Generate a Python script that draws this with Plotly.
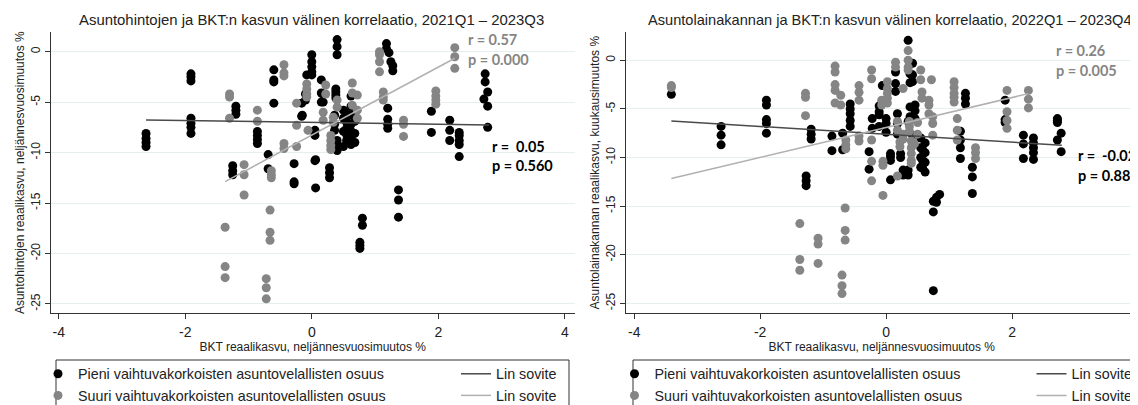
import plotly.graph_objects as go

# Browser window size and the default 8px page margin around the plot div
WIN_W, WIN_H = 1138, 405
OFF = 8
W, H = WIN_W - OFF, WIN_H - OFF

# ---------------- data ----------------
# Left panel: house prices vs GDP, 2021Q1-2023Q3
left_black_cols_x = [-2.62, -1.91, -1.20, -1.25, -0.86, -0.69, -0.60, -0.28, -0.16, -0.10,
                     -0.08, -0.15, 0.00, 0.05, 0.06, 0.15, 0.18, 0.28, 0.36, 0.38,
                     0.40, 0.50, 0.55, 0.62, 0.68, 0.76, 0.80, 1.18, 1.22, 1.25,
                     1.28, 1.20, 1.37, 1.89, 2.18, 2.33, 2.74, 2.78, 2.72]
left_black_cols_y = [[-8.1, -8.6, -9.0, -9.4], [-2.2, -2.5, -2.9, -6.6, -7.1, -7.5, -8.1],
                     [-5.4, -5.8, -6.2], [-11.3, -11.8, -12.2], [-7.9, -8.3, -8.7, -9.1],
                     [-10.2, -11.6], [-1.8, -2.8, -3.0, -5.1], [-11.1, -12.9, -13.1],
                     [-5.1, -6.4], [-4.2, -4.8], [-2.3], [-6.3],
                     [-0.3, -1.0, -1.5, -2.0, -2.3], [-7.8, -8.3, -10.8], [-10.7, -13.5],
                     [-2.8, -4.1, -5.0], [-4.2, -5.0], [-11.5, -12.0, -12.5],
                     [-6.3, -7.2, -7.8], [-3.7, -4.0, -4.3, -4.6],
                     [1.2, 0.5, -0.3, -8.8, -9.3, -9.8], [-5.8, -6.6, -7.9, -9.4],
                     [-6.1, -7.0, -7.6, -8.2, -8.8], [-4.4, -5.4, -6.3, -7.2, -7.9, -8.5, -9.2],
                     [-5.9, -6.9, -8.1, -9.0], [-18.9, -19.2, -19.5], [-16.5, -17.2],
                     [0.8, 0.3], [-0.1], [-1.0], [-1.4, -1.9], [-5.6, -6.7, -7.2, -7.6],
                     [-13.7, -14.7, -16.4], [-5.9, -8.0], [-6.8, -7.8, -8.8],
                     [-8.0, -8.3, -8.8, -9.2, -10.4], [-2.2, -3.0], [-4.0, -5.4, -7.5], [-4.7]]

left_gray_cols_x = [-1.30, -1.07, -0.86, -0.64, -0.44, -0.24, -0.06, -0.08, -1.37, -0.66,
                    -0.72, 0.18, 0.22, 0.34, 0.30, 0.40, 0.64, 0.72, 1.07, 1.13,
                    1.45, 1.96, 2.26]
left_gray_cols_y = [[-4.2, -4.5, -6.6], [-11.2, -12.2, -14.2], [-5.8, -6.9],
                    [-11.8, -12.2, -12.5], [-1.3, -2.1, -2.4, -9.1, -9.6],
                    [-5.1, -7.3, -9.4], [-7.8], [-3.2, -3.7, -4.2, -4.5],
                    [-17.4, -21.3, -22.4], [-15.7, -17.9, -18.7], [-22.5, -23.4, -24.5],
                    [-6.0, -6.8], [-3.3, -4.2], [-6.5, -7.0], [-8.3, -8.8, -9.3, -9.7],
                    [-4.8, -5.5], [-3.1, -4.1, -5.3], [-4.3, -5.8, -6.6],
                    [0.0, -0.3, -1.0, -2.0], [-4.0, -4.5, -4.8], [-6.8, -7.2, -8.4],
                    [-3.9, -4.4, -4.8, -5.2], [0.4, -0.5, -1.65]]

# Right panel: housing loan stock vs GDP, 2022Q1-2023Q4
right_black_cols_x = [-3.41, -2.62, -1.90, -1.19, -1.27, -0.86, -0.69, -0.57, -0.27, -0.22,
                      -0.11, -0.06, 0.00, 0.07, 0.15, 0.18, 0.23, 0.27, 0.35, 0.38,
                      0.42, 0.46, 0.55, 0.62, 0.58, 0.75, 0.80, 0.85, 1.18, 1.26,
                      1.37, 1.89, 2.18, 2.34, 2.72, 2.78]
right_black_cols_y = [[-3.5], [-6.8, -7.7, -8.7], [-4.1, -4.6, -6.1, -6.5, -7.5],
                      [-7.1, -7.6, -8.1], [-11.9, -12.4, -12.9], [-7.8, -9.3], [-7.5, -9.2],
                      [-4.5, -5.0, -5.5, -6.2, -6.8], [-9.4, -11.2], [-6.0, -7.0],
                      [-4.7, -5.3, -5.6, -6.8], [-2.6], [-6.0, -6.5, -7.4],
                      [-9.6, -9.9, -10.3, -12.3], [-1.2, -2.4, -3.2], [-5.5, -6.5, -7.6],
                      [-9.6, -10.0], [-11.3, -11.8], [2.05, -6.3, -11.3, -11.8],
                      [-1.4, -2.3, -4.8, -5.8], [-0.3, -1.5, -2.2, -7.7, -8.5],
                      [-4.6, -5.2, -6.0], [-8.0, -9.0, -10.0, -11.0], [-8.5, -9.5, -10.5, -11.5],
                      [-9.2, -10.3, -11.1], [-15.6, -23.7, -14.5], [-14.1, -14.6], [-13.8],
                      [-7.3, -8.2, -9.0, -10.1], [-3.4, -3.9, -4.5], [-11.0, -12.0, -13.7],
                      [-4.1, -6.1, -6.4], [-7.7, -8.6, -10.1], [-8.0, -8.5, -9.0, -9.5, -10.2],
                      [-6.0, -6.2, -6.4, -8.2], [-7.5, -9.4]]

right_gray_cols_x = [-3.41, -1.28, -0.81, -0.72, -0.64, -0.43, -0.23, -0.07, -0.05, 0.02,
                     0.15, 0.18, 0.22, 0.27, 0.35, 0.37, 0.40, 0.45, 0.50, 0.55,
                     0.57, 0.68, 0.72, 0.74, 1.08, 1.13, 1.42, 1.92, 2.26, -0.65,
                     -1.37, -1.08, -0.70]
right_gray_cols_y = [[-2.6, -2.8], [-3.4, -3.8, -5.7], [-0.6, -1.2, -2.5, -3.1, -4.4],
                     [-3.6, -4.6], [-8.2, -8.7, -9.1], [-2.6, -3.3, -4.1, -7.8, -8.3],
                     [-1.0, -1.9, -8.2, -10.4, -12.4], [-4.1, -4.6], [-10.4, -10.8, -13.9],
                     [-2.2, -2.9, -3.4, -3.9, -4.4], [-0.2, -0.7], [-6.3, -7.2, -11.9],
                     [-8.4, -8.9], [-2.9, -7.6, -8.1], [1.0, 0.0, -0.7, -1.0],
                     [-6.3, -6.8, -7.3], [-8.3, -9.0, -9.6, -10.3, -10.6], [-8.6],
                     [-6.4, -7.6], [-1.0, -2.0], [-3.25, -3.9], [-4.1, -4.6, -5.5], [-2.0],
                     [-5.8, -6.5, -7.7], [-2.2, -2.8, -3.4, -3.8, -4.3], [-6.0, -7.2, -8.2],
                     [-9.0, -9.5, -10.1], [-3.1, -5.3, -6.2, -7.0], [-3.1, -4.0, -4.9],
                     [-15.2, -17.5, -18.5], [-16.8, -20.5, -21.6], [-18.3, -18.9, -20.9],
                     [-22.1, -23.2, -24.0]]

# Linear fit lines (endpoints)
left_black_fit_x, left_black_fit_y = [-2.62, 2.80], [-6.77, -7.26]
left_gray_fit_x, left_gray_fit_y = [-1.37, 2.26], [-12.88, -0.65]
right_black_fit_x, right_black_fit_y = [-3.41, 2.79], [-6.24, -8.74]
right_gray_fit_x, right_gray_fit_y = [-3.41, 2.26], [-12.16, -3.43]

# Correlation labels
left_gray_stats = ["r = 0.57", "p = 0.000"]
left_black_stats = ["r =\u00a0 0.05", "p = 0.560"]
right_gray_stats = ["r = 0.26", "p = 0.005"]
right_black_stats = ["r =\u00a0 -0.02", "p = 0.883"]

x_ticks = [-4, -2, 0, 2, 4]
x_tick_text = ["-4", "-2", "0", "2", "4"]
y_ticks = [-25, -20, -15, -10, -5, 0]
y_tick_text = ["-25", "-20", "-15", "-10", "-5", "0"]

titles = ["Asuntohintojen ja BKT:n kasvun välinen korrelaatio, 2021Q1 \u2013 2023Q3",
          "Asuntolainakannan ja BKT:n kasvun välinen korrelaatio, 2022Q1 \u2013 2023Q4"]
x_title = "BKT reaalikasvu, neljännesvuosimuutos %"
y_titles = ["Asuntohintojen reaalikasvu, neljännesvuosimuutos %",
            "Asuntolainakannan reaalikasvu, kuukausimuutos %"]
series_names = ["Pieni vaihtuvakorkoisten asuntovelallisten osuus",
                "Suuri vaihtuvakorkoisten asuntovelallisten osuus"]
fit_name = "Lin sovite"


def expand(xs, yss):
    ox, oy = [], []
    for x, ys in zip(xs, yss):
        for y in ys:
            ox.append(x)
            oy.append(y)
    return ox, oy


BLACK = "#000000"
GRAY = "#858585"
FIT_DARK = "#4a4a4a"
FIT_LIGHT = "#b0b0b0"
FONT = "Liberation Sans, Arial, sans-serif"
TXT = "#222222"

fig = go.Figure()

panels = [
    dict(xa="x", ya="y", bx=left_black_cols_x, by=left_black_cols_y,
         gx=left_gray_cols_x, gy=left_gray_cols_y,
         bf=(left_black_fit_x, left_black_fit_y), gf=(left_gray_fit_x, left_gray_fit_y),
         lm="legend", ll="legend2"),
    dict(xa="x2", ya="y2", bx=right_black_cols_x, by=right_black_cols_y,
         gx=right_gray_cols_x, gy=right_gray_cols_y,
         bf=(right_black_fit_x, right_black_fit_y), gf=(right_gray_fit_x, right_gray_fit_y),
         lm="legend3", ll="legend4"),
]

for p in panels:
    bx, by = expand(p["bx"], p["by"])
    gx, gy = expand(p["gx"], p["gy"])
    fig.add_trace(go.Scatter(x=bx, y=by, mode="markers", xaxis=p["xa"], yaxis=p["ya"],
                             name=series_names[0], legend=p["lm"],
                             marker=dict(color=BLACK, size=9, opacity=1, line=dict(width=0))))
    fig.add_trace(go.Scatter(x=gx, y=gy, mode="markers", xaxis=p["xa"], yaxis=p["ya"],
                             name=series_names[1], legend=p["lm"],
                             marker=dict(color=GRAY, size=9, opacity=1, line=dict(width=0))))
    fig.add_trace(go.Scatter(x=p["bf"][0], y=p["bf"][1], mode="lines", xaxis=p["xa"], yaxis=p["ya"],
                             name=fit_name, legend=p["ll"], line=dict(color=FIT_DARK, width=1.5)))
    fig.add_trace(go.Scatter(x=p["gf"][0], y=p["gf"][1], mode="lines", xaxis=p["xa"], yaxis=p["ya"],
                             name=fit_name, legend=p["ll"], line=dict(color=FIT_LIGHT, width=1.5)))


# helpers: window pixel -> paper fraction (figure sits 8px in from the window corner)
def px_x(v):
    return (v - OFF) / W


def px_y(v):
    return 1 - (v - OFF) / H


y_dom = [px_y(313.3), px_y(32)]

common_x = dict(tickvals=x_ticks, ticktext=x_tick_text, ticks="outside", ticklen=5,
                tickcolor="#333333", showline=True, linecolor="#333333", linewidth=1,
                showgrid=False, zeroline=False, automargin=False, ticklabelstandoff=1,
                tickfont=dict(family=FONT, size=14, color=TXT),
                title=dict(text=x_title, font=dict(family=FONT, size=12, color=TXT), standoff=3))
common_y = dict(tickvals=y_ticks, ticktext=y_tick_text, ticks="outside", ticklen=5,
                tickcolor="#333333", showline=True, linecolor="#333333", linewidth=1,
                showgrid=True, gridcolor="#e6efef", gridwidth=1, zeroline=False,
                automargin=False, tickangle=-90, domain=y_dom,
                tickfont=dict(family=FONT, size=12, color=TXT))

legend_common = dict(orientation="v", xanchor="left", yanchor="top",
                     bgcolor="rgba(0,0,0,0)", borderwidth=0,
                     font=dict(family=FONT, size=14.3, color=TXT),
                     itemclick=False, itemdoubleclick=False, traceorder="normal")

LEG_TOP = 358
fig.update_layout(
    width=W, height=H, margin=dict(l=0, r=0, t=0, b=0, autoexpand=False),
    paper_bgcolor="white", plot_bgcolor="white",
    xaxis=dict(domain=[px_x(50.5), px_x(575)], range=[-4.13, 4.16], anchor="y", **common_x),
    yaxis=dict(range=[-25.93, 1.95], anchor="x",
               title=dict(text=y_titles[0], font=dict(family=FONT, size=12, color=TXT), standoff=1),
               **common_y),
    xaxis2=dict(domain=[px_x(625.5), 1.0], range=[-4.138, 4.0], anchor="y2", **common_x),
    yaxis2=dict(range=[-26.03, 2.91], anchor="x2",
                title=dict(text=y_titles[1], font=dict(family=FONT, size=12, color=TXT), standoff=1),
                **common_y),
    legend=dict(x=px_x(38), y=px_y(LEG_TOP), **legend_common),
    legend2=dict(x=px_x(456), y=px_y(LEG_TOP), **legend_common),
    legend3=dict(x=px_x(614.5), y=px_y(LEG_TOP), **legend_common),
    legend4=dict(x=px_x(1031.5), y=px_y(LEG_TOP), **legend_common),
    showlegend=True,
)

# Legend frames
for x0, x1 in [(56, 569), (633, 1150)]:
    fig.add_shape(type="rect", xref="paper", yref="paper",
                  x0=px_x(x0), x1=px_x(x1), y0=px_y(415), y1=px_y(360),
                  line=dict(color="#333333", width=1), fillcolor="rgba(0,0,0,0)")

# Panel titles
for t, cx, fs in zip(titles, [311.5, 889.5], [14.9, 14.6]):
    fig.add_annotation(text=t, xref="paper", yref="paper", x=px_x(cx), y=px_y(20),
                       xanchor="center", yanchor="middle", showarrow=False,
                       font=dict(family=FONT, size=fs, color=TXT))

# Correlation statistics
STAT_FONT = "Lato, Noto Sans, sans-serif"
stat_specs = [
    ("x", "y", 2.43, [1.16, -0.75], left_gray_stats, GRAY),
    ("x", "y", 2.82, [-9.42, -11.33], left_black_stats, BLACK),
    ("x2", "y2", 2.66, [0.96, -1.1], right_gray_stats, GRAY),
    ("x2", "y2", 3.02, [-9.76, -11.9], right_black_stats, BLACK),
]
for xr, yr, xv, yvs, texts, col in stat_specs:
    for yv, t in zip(yvs, texts):
        fig.add_annotation(text="<b>" + t + "</b>", xref=xr, yref=yr, x=xv, y=yv,
                           xanchor="left", yanchor="middle", showarrow=False,
                           font=dict(family=STAT_FONT, size=14.5, color=col))

fig.write_html("out.html")
